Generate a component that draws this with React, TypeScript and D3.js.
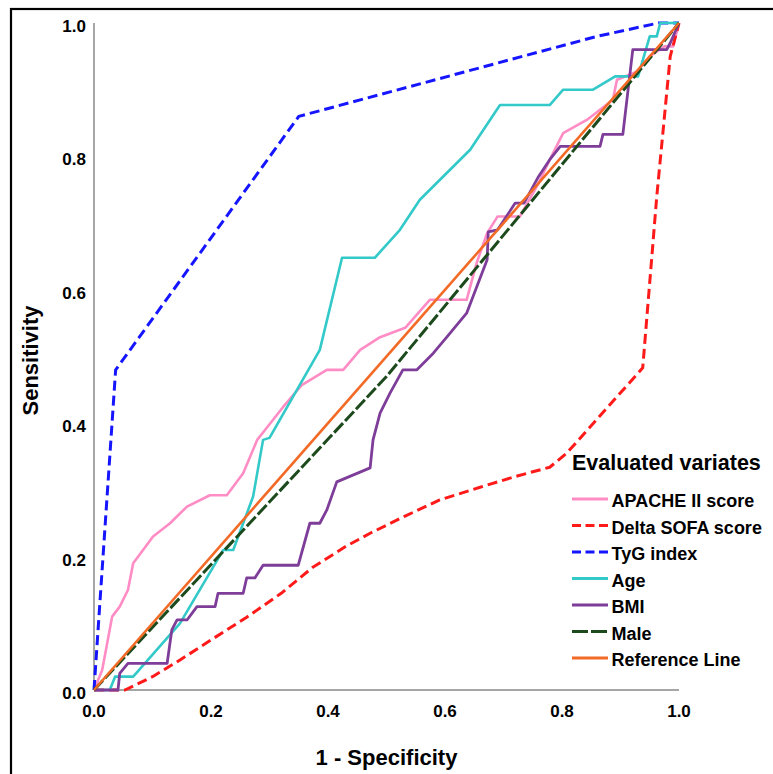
import React from "react";
import * as d3 from "d3";

type Pt = [number, number];

// ROC curves: [1 - specificity, sensitivity]
const apacheII: Pt[] = [
  [0, 0], [0.014, 0.03], [0.031, 0.11], [0.044, 0.125], [0.058, 0.15], [0.067, 0.19],
  [0.101, 0.23], [0.13, 0.25], [0.159, 0.275], [0.198, 0.292], [0.227, 0.292], [0.255, 0.325],
  [0.279, 0.375], [0.296, 0.394], [0.323, 0.424], [0.355, 0.457], [0.398, 0.48], [0.426, 0.48],
  [0.455, 0.51], [0.489, 0.529], [0.532, 0.543], [0.574, 0.585], [0.637, 0.585], [0.654, 0.64],
  [0.672, 0.685], [0.69, 0.71], [0.728, 0.71], [0.76, 0.76], [0.779, 0.795], [0.802, 0.835],
  [0.843, 0.855], [0.887, 0.885], [0.894, 0.915], [0.928, 0.927], [0.95, 0.95], [0.975, 0.965],
  [0.99, 0.965], [1, 1],
];

const deltaSofa: Pt[] = [
  [0, 0], [0.053, 0], [0.1, 0.02], [0.147, 0.045], [0.2, 0.075], [0.261, 0.109], [0.32, 0.145],
  [0.374, 0.184], [0.43, 0.215], [0.472, 0.235], [0.53, 0.26], [0.591, 0.285], [0.66, 0.304],
  [0.72, 0.32], [0.779, 0.334], [0.808, 0.355], [0.938, 0.483], [0.962, 0.74], [0.985, 0.95],
  [1, 1],
];

const tygIndex: Pt[] = [
  [0, 0], [0.037, 0.48], [0.35, 0.86], [0.86, 0.98], [0.965, 1], [1, 1],
];

const age: Pt[] = [
  [0, 0], [0.027, 0], [0.036, 0.02], [0.067, 0.02], [0.147, 0.1], [0.221, 0.21], [0.238, 0.21],
  [0.272, 0.29], [0.289, 0.375], [0.3, 0.378], [0.386, 0.51], [0.424, 0.648], [0.48, 0.648],
  [0.523, 0.69], [0.557, 0.735], [0.643, 0.81], [0.694, 0.877], [0.779, 0.877], [0.802, 0.9],
  [0.853, 0.9], [0.891, 0.92], [0.93, 0.92], [0.95, 0.98], [0.962, 0.98], [0.968, 1], [1, 1],
];

const bmi: Pt[] = [
  [0, 0], [0.041, 0], [0.044, 0.025], [0.058, 0.04], [0.125, 0.04], [0.133, 0.09], [0.142, 0.105],
  [0.159, 0.105], [0.176, 0.125], [0.207, 0.125], [0.212, 0.145], [0.255, 0.145], [0.261, 0.168],
  [0.275, 0.168], [0.289, 0.187], [0.349, 0.187], [0.369, 0.25], [0.386, 0.25], [0.398, 0.27],
  [0.415, 0.312], [0.472, 0.333], [0.477, 0.375], [0.489, 0.415], [0.506, 0.445], [0.528, 0.48],
  [0.552, 0.48], [0.58, 0.505], [0.603, 0.529], [0.637, 0.565], [0.654, 0.604], [0.672, 0.645],
  [0.674, 0.687], [0.69, 0.69], [0.72, 0.73], [0.735, 0.73], [0.76, 0.77], [0.779, 0.795],
  [0.797, 0.815], [0.865, 0.815], [0.87, 0.833], [0.904, 0.833], [0.921, 0.96], [0.979, 0.96],
  [0.985, 0.97], [1, 1],
];

const male: Pt[] = [[0, 0], [0.5, 0.47], [1, 1]];

const referenceLine: Pt[] = [[0, 0], [1, 1]];

const tickValues = [0, 0.2, 0.4, 0.6, 0.8, 1.0];

const seriesNames = [
  "APACHE II score",
  "Delta SOFA score",
  "TyG index",
  "Age",
  "BMI",
  "Male",
  "Reference Line",
];

const seriesData: Pt[][] = [apacheII, deltaSofa, tygIndex, age, bmi, male, referenceLine];

const seriesStyle = [
  { color: "#ff8cc4", dash: "", width: 2.6 },
  { color: "#ff1a1a", dash: "10,5", width: 3 },
  { color: "#1515ff", dash: "10,5", width: 3 },
  { color: "#33c9c9", dash: "", width: 2.6 },
  { color: "#7d3d99", dash: "", width: 2.8 },
  { color: "#1c4a1c", dash: "13,3", width: 3 },
  { color: "#f26a26", dash: "", width: 2.6 },
];

const FONT = "'Liberation Sans', Arial, Helvetica, sans-serif";

export default function App() {
  const W = 773;
  const H = 774;
  const left = 94;
  const right = 679;
  const top = 23;
  const bottom = 690;

  const x = d3.scaleLinear().domain([0, 1]).range([left, right]);
  const y = d3.scaleLinear().domain([0, 1]).range([bottom, top]);

  const line = d3
    .line<Pt>()
    .x((d) => x(d[0]))
    .y((d) => y(d[1]))
    .curve(d3.curveLinear);

  const legendX = 572;
  const legendTitleY = 470;
  const legendFirstY = 499;
  const legendStep = 26.5;

  return (
    <svg
      width={W}
      height={H}
      style={{ position: "absolute", left: 0, top: 0, background: "#fff" }}
      fontFamily={FONT}
    >
      <rect x={0} y={0} width={W} height={H} fill="#fff" />
      {/* outer frame */}
      <rect x={11} y={9} width={W + 20} height={H + 20} fill="none" stroke="#000" strokeWidth={2.2} />

      {/* axes */}
      <line x1={left} x2={left} y1={bottom} y2={top} stroke="#a6a6a6" strokeWidth={2} />
      <line x1={left} x2={right} y1={bottom} y2={bottom} stroke="#a6a6a6" strokeWidth={2} />

      {/* y tick labels */}
      {tickValues.map((t) => (
        <text
          key={"y" + t}
          x={left - 8}
          y={y(t) + 9}
          textAnchor="end"
          fontSize={17}
          fontWeight="bold"
          fill="#000"
        >
          {t.toFixed(1)}
        </text>
      ))}

      {/* x tick labels */}
      {tickValues.map((t) => (
        <text
          key={"x" + t}
          x={x(t)}
          y={bottom + 27}
          textAnchor="middle"
          fontSize={17}
          fontWeight="bold"
          fill="#000"
        >
          {t.toFixed(1)}
        </text>
      ))}

      {/* axis titles */}
      <text
        x={(left + right) / 2}
        y={765}
        textAnchor="middle"
        fontSize={22}
        fontWeight="bold"
        fill="#000"
      >
        1 - Specificity
      </text>
      <text
        transform={`translate(38, ${(top + bottom) / 2 + 4}) rotate(-90)`}
        textAnchor="middle"
        fontSize={22}
        fontWeight="bold"
        fill="#000"
      >
        Sensitivity
      </text>

      {/* curves */}
      {seriesData.map((d, i) => (
        <path
          key={seriesNames[i]}
          d={line(d) ?? ""}
          fill="none"
          stroke={seriesStyle[i].color}
          strokeWidth={seriesStyle[i].width}
          strokeDasharray={seriesStyle[i].dash || undefined}
          strokeLinejoin="round"
        />
      ))}

      {/* legend */}
      <text x={legendX} y={legendTitleY} fontSize={21.5} fontWeight="bold" fill="#000">
        Evaluated variates
      </text>
      {seriesNames.map((name, i) => {
        const ly = legendFirstY + i * legendStep;
        return (
          <g key={"lg" + name}>
            <line
              x1={legendX}
              x2={legendX + 36}
              y1={ly}
              y2={ly}
              stroke={seriesStyle[i].color}
              strokeWidth={3}
              strokeDasharray={seriesStyle[i].dash ? (i === 5 ? "16,3" : "9,4.5") : undefined}
            />
            <text x={legendX + 39.5} y={ly + 8} fontSize={18} fontWeight="bold" fill="#000">
              {name}
            </text>
          </g>
        );
      })}
    </svg>
  );
}
